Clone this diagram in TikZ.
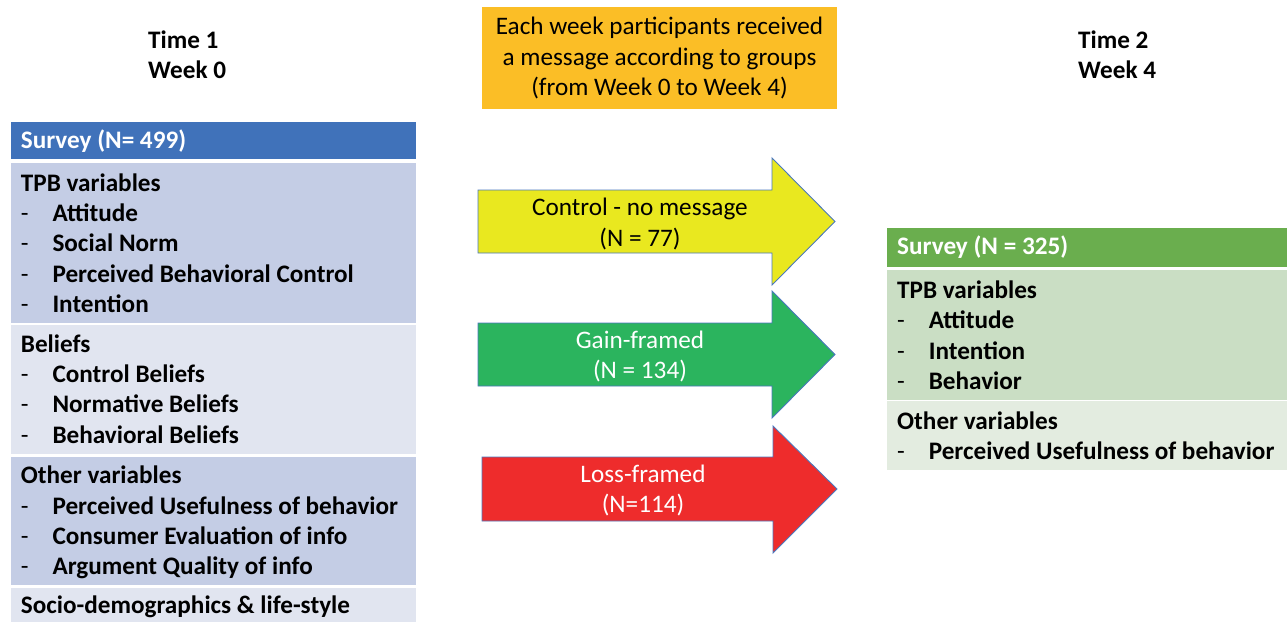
\documentclass[tikz,border=0pt]{standalone}
\usepackage{fontspec}
\setmainfont{Carlito}
\usepackage{tikz}
\usetikzlibrary{positioning}

\definecolor{surveyblue}{HTML}{4072BA}
\definecolor{rowblue}{HTML}{C4CDE5}
\definecolor{rowpale}{HTML}{E1E5F0}
\definecolor{surveygreen}{HTML}{6AAE4E}
\definecolor{rowgreen}{HTML}{CADEC4}
\definecolor{rowmint}{HTML}{E3ECE0}
\definecolor{msgorange}{HTML}{FBBE26}
\definecolor{ctrlyellow}{HTML}{E9E81F}
\definecolor{gaingreen}{HTML}{2BB45E}
\definecolor{lossred}{HTML}{EE2C2C}
\definecolor{arrowedge}{HTML}{4A78BE}

\newcommand{\bodysize}{\fontsize{25.2}{30.3}\selectfont}
\newcommand{\itm}{\makebox[31.6pt][l]{\mdseries -}}

\tikzset{
  row/.style={anchor=north west, inner sep=0, minimum width=405},
  rowtext/.style={inner sep=0, align=left, font=\bodysize\bfseries},
  timetext/.style={anchor=north west, inner sep=0, align=left, font=\bodysize\bfseries},
  msgbox/.style={fill=msgorange, inner sep=0, minimum width=355, minimum height=102, align=center},
  grouparrow/.style={draw=arrowedge, line width=0.9pt, line join=miter},
  armtext/.style={anchor=north, inner sep=0, align=center}
}

\begin{document}
\begin{tikzpicture}[x=1pt, y=-1pt, font=\bodysize]
        \useasboundingbox (0,0) rectangle (1287,621);
        % time labels
        \node[timetext] (time1) at (148,27.1) {\strut Time 1\\Week 0};
        \node[timetext] (time2) at (1078,27.1) {\strut Time 2\\Week 4};
        % message box
        \node[msgbox] (msg) at (659.5,58) {Each week participants received\\a message according to groups\\(from Week 0 to Week 4)};
        % survey at week 0
        \node[row, fill=surveyblue, minimum height=37] (head1) at (11,122) {};
        \node[row, fill=rowblue, minimum height=160] (tpb1) at (11,163) {};
        \node[row, fill=rowpale, minimum height=129] (bel1) at (11,325) {};
        \node[row, fill=rowblue, minimum height=128] (oth1) at (11,457) {};
        \node[row, fill=rowpale, minimum height=40] (soc1) at (11,588) {};
        \node[rowtext, text=white, below right=4.8pt and 9.7pt of head1.north west] (head1txt) {\strut Survey (N= 499)};
        \node[rowtext, below right=6.8pt and 9.7pt of tpb1.north west] (tpb1txt) {\strut TPB variables\\\itm Attitude\\\itm Social Norm\\\itm Perceived Behavioral Control\\\itm Intention};
        \node[rowtext, below right=5.8pt and 9.7pt of bel1.north west] (bel1txt) {\strut Beliefs\\\itm Control Beliefs\\\itm Normative Beliefs\\\itm Behavioral Beliefs};
        \node[rowtext, below right=5.3pt and 9.7pt of oth1.north west] (oth1txt) {\strut Other variables\\\itm Perceived Usefulness of behavior\\\itm Consumer Evaluation of info\\\itm Argument Quality of info};
        \node[rowtext, below right=4pt and 9.7pt of soc1.north west] (soc1txt) {\strut Socio-demographics \& life-style};
        % survey at week 4
        \node[row, fill=surveygreen, minimum height=39, minimum width=401] (head2) at (887,228) {};
        \node[row, fill=rowgreen, minimum height=130, minimum width=401] (tpb2) at (887,269.5) {};
        \node[row, fill=rowmint, minimum height=69, minimum width=401] (oth2) at (887,401) {};
        \node[rowtext, text=white, below right=5pt and 10pt of head2.north west] (head2txt) {\strut Survey (N = 325)};
        \node[rowtext, below right=7.6pt and 10pt of tpb2.north west] (tpb2txt) {\strut TPB variables\\\itm Attitude\\\itm Intention\\\itm Behavior};
        \node[rowtext, below right=6.6pt and 10pt of oth2.north west] (oth2txt) {\strut Other variables\\\itm Perceived Usefulness of behavior};
        % group arrows
        \draw[grouparrow, fill=ctrlyellow] (478,190) -- (772,190) -- (772,158) -- (835,221.5) -- (772,285) -- (772,253) -- (478,253) -- cycle;
        \draw[grouparrow, fill=gaingreen] (478,323) -- (772,323) -- (772,291) -- (835,354.5) -- (772,418) -- (772,386) -- (478,386) -- cycle;
        \draw[grouparrow, fill=lossred] (482,457) -- (773,457) -- (773,426) -- (837,489) -- (773,553) -- (773,521) -- (482,521) -- cycle;
        \node[armtext] (ctrl) at (640,194.3) {\strut Control - no message\\(N = 77)};
        \node[armtext, text=white] (gain) at (640,326.6) {\strut Gain-framed\\(N = 134)};
        \node[armtext, text=white] (loss) at (643,461) {\strut Loss-framed\\(N=114)};
    \end{tikzpicture}
\end{document}
